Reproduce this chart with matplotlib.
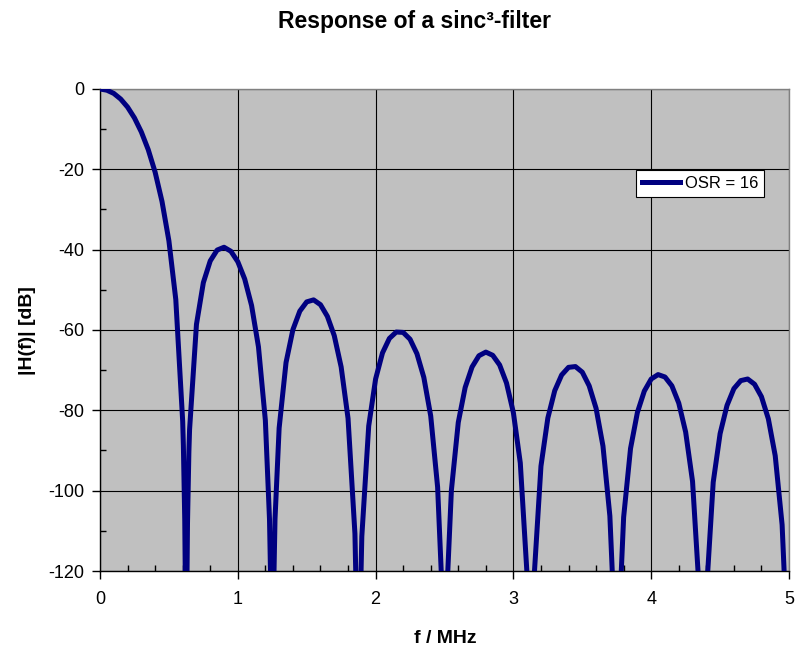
import matplotlib
matplotlib.use("Agg")
import matplotlib.pyplot as plt
from matplotlib.ticker import MultipleLocator

plt.rcParams['font.family'] = ['Liberation Sans', 'DejaVu Sans']
plt.rcParams['axes.unicode_minus'] = False

# frequency in MHz, response in dB
freq = [0.0, 0.05, 0.1, 0.15, 0.2, 0.25, 0.3, 0.35, 0.4, 0.45, 0.5, 0.55, 0.6,
        0.605, 0.615, 0.62, 0.63, 0.635, 0.645,
        0.65, 0.7, 0.75, 0.8, 0.85, 0.9, 0.95, 1.0, 1.05, 1.1, 1.15, 1.2,
        1.23, 1.24, 1.26, 1.27,
        1.3, 1.35, 1.4, 1.45, 1.5, 1.55, 1.6, 1.65, 1.7, 1.75, 1.8, 1.85,
        1.865, 1.885,
        1.9, 1.95, 2.0, 2.05, 2.1, 2.15, 2.2, 2.25, 2.3, 2.35, 2.4, 2.45,
        2.48, 2.49, 2.51, 2.52,
        2.55, 2.6, 2.65, 2.7, 2.75, 2.8, 2.85, 2.9, 2.95, 3.0, 3.05, 3.1,
        3.115, 3.135,
        3.15, 3.2, 3.25, 3.3, 3.35, 3.4, 3.45, 3.5, 3.55, 3.6, 3.65, 3.7,
        3.73, 3.74, 3.76, 3.77,
        3.8, 3.85, 3.9, 3.95, 4.0, 4.05, 4.1, 4.15, 4.2, 4.25, 4.3, 4.35,
        4.365, 4.385,
        4.4, 4.45, 4.5, 4.55, 4.6, 4.65, 4.7, 4.75, 4.8, 4.85, 4.9, 4.95,
        4.98, 4.99]
gain_db = [0.0, -0.3, -1.1, -2.5, -4.5, -7.2, -10.7, -15.1, -20.7, -28.0, -37.8, -52.4, -82.7,
           -88.7, -107.2, -125.4, -125.9, -108.0, -90.4,
           -84.8, -58.6, -48.2, -42.8, -40.1, -39.4, -40.4, -43.0, -47.3, -53.9, -64.2, -82.5,
           -107.1, -125.2, -125.2, -107.1,
           -84.4, -68.1, -59.9, -55.3, -53.0, -52.5, -53.7, -56.6, -61.4, -69.2, -82.0, -110.7,
           -134.9, -134.9,
           -111.4, -83.9, -72.2, -65.7, -62.1, -60.5, -60.6, -62.3, -65.9, -71.8, -81.4, -99.1,
           -123.1, -141.2, -141.2, -123.1,
           -99.9, -83.0, -74.3, -69.2, -66.4, -65.5, -66.3, -68.7, -73.2, -80.6, -93.1, -121.4,
           -145.4, -145.4,
           -121.7, -93.9, -81.9, -75.1, -71.2, -69.3, -69.1, -70.5, -73.9, -79.5, -88.9, -106.3,
           -130.1, -148.1, -148.1, -130.1,
           -106.6, -89.5, -80.5, -75.2, -72.2, -71.1, -71.7, -73.9, -78.2, -85.4, -97.7, -125.8,
           -149.6, -149.6,
           -125.9, -97.9, -85.8, -78.8, -74.6, -72.6, -72.2, -73.5, -76.6, -82.1, -91.3, -108.5,
           -132.2, -150.2]

series_name = 'OSR = 16'
x_ticks = [0, 1, 2, 3, 4, 5]
y_ticks = [0, -20, -40, -60, -80, -100, -120]

fig = plt.figure(figsize=(7.95, 6.49), dpi=100)
ax = fig.add_axes([100/795, 1 - 571/649, 689/795, 482/649])

ax.set_facecolor('#C0C0C0')
ax.plot(freq, gain_db, color='#000080', lw=3.6, label=series_name,
        solid_joinstyle='round', zorder=3)

ax.set_xlim(0, 5)
ax.set_ylim(-120, 0)
ax.set_xticks(x_ticks)
ax.set_yticks(y_ticks)
ax.xaxis.set_minor_locator(MultipleLocator(0.2))
ax.yaxis.set_minor_locator(MultipleLocator(10))
ax.grid(True, which='major', color='black', lw=0.8)
ax.set_axisbelow(True)

ax.tick_params(axis='both', which='major', direction='out', length=5.5, width=1, labelsize=13)
ax.tick_params(axis='both', which='minor', direction='in', length=4, width=1)
ax.tick_params(axis='x', which='major', pad=9)
ax.tick_params(axis='y', which='major', pad=6)

for side in ['left', 'bottom']:
	ax.spines[side].set_color('black')
	ax.spines[side].set_linewidth(1)
for side in ['top', 'right']:
	ax.spines[side].set_color('#808080')
	ax.spines[side].set_linewidth(1)

fig.text(445/795, 1 - 643/649, 'f / MHz', fontsize=14, fontweight='bold',
         ha='center', va='baseline')
fig.text(27/795, 1 - 331/649, '|H(f)| [dB]', fontsize=14, fontweight='bold',
         ha='center', va='center', rotation=90)
fig.text(414/795, 1 - 28/649, 'Response of a sinc³-filter', fontsize=16.5,
         fontweight='bold', ha='center', va='baseline')

leg = ax.legend(loc='upper left', bbox_to_anchor=(0.778, 0.832), fontsize=12,
                fancybox=False, framealpha=1, edgecolor='black', handlelength=2.3,
                borderpad=0.35, handletextpad=0.3, borderaxespad=0)
leg.get_frame().set_linewidth(0.8)

fig.savefig('out.png', dpi=100)
